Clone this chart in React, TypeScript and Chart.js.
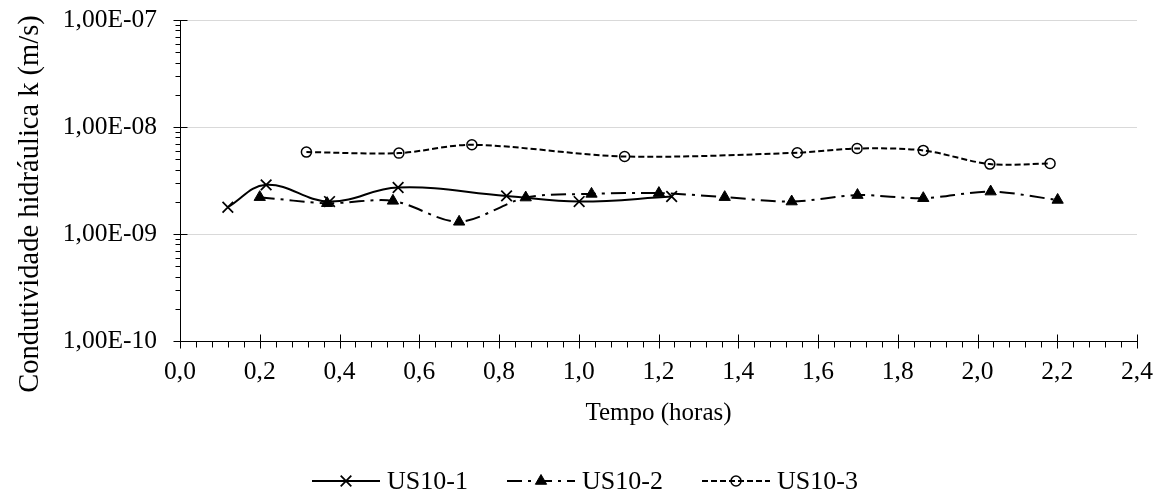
import React, { useEffect, useRef } from 'react';
import { Chart, registerables } from 'chart.js';

Chart.register(...registerables);

const FONT = "'Liberation Serif', 'Times New Roman', serif";

// ---- data ----
const seriesNames = ['US10-1', 'US10-2', 'US10-3'];

const us101Time = [0.12, 0.216, 0.375, 0.547, 0.819, 1.001, 1.233];
const us101K = [1.78e-9, 2.88e-9, 2.01e-9, 2.72e-9, 2.27e-9, 2.01e-9, 2.24e-9];

const us102Time = [0.2, 0.369, 0.534, 0.7, 0.867, 1.032, 1.201, 1.366, 1.534, 1.699, 1.864, 2.033, 2.201];
const us102K = [2.21e-9, 1.94e-9, 2.04e-9, 1.3e-9, 2.19e-9, 2.37e-9, 2.41e-9, 2.21e-9, 2.01e-9, 2.31e-9, 2.16e-9, 2.49e-9, 2.08e-9];

const us103Time = [0.317, 0.549, 0.732, 1.115, 1.548, 1.698, 1.864, 2.031, 2.182];
const us103K = [5.83e-9, 5.7e-9, 6.82e-9, 5.3e-9, 5.74e-9, 6.3e-9, 6.04e-9, 4.5e-9, 4.56e-9];

const xTicks = [0, 0.2, 0.4, 0.6, 0.8, 1.0, 1.2, 1.4, 1.6, 1.8, 2.0, 2.2, 2.4];
const xTickLabels = ['0,0', '0,2', '0,4', '0,6', '0,8', '1,0', '1,2', '1,4', '1,6', '1,8', '2,0', '2,2', '2,4'];
const yTicks = [1e-10, 1e-9, 1e-8, 1e-7];
const yTickLabels = ['1,00E-10', '1,00E-09', '1,00E-08', '1,00E-07'];

const xTitle = 'Tempo (horas)';
const yTitle = 'Condutividade hidráulica k (m/s)';

const pair = (xs: number[], ys: number[]) => xs.map((x, i) => ({ x, y: ys[i] }));

function drawMarker(ctx: CanvasRenderingContext2D, style: string, x: number, y: number, r: number, fill: string, bw: number) {
  ctx.save();
  ctx.setLineDash([]);
  ctx.lineWidth = bw;
  ctx.strokeStyle = '#000';
  ctx.fillStyle = fill;
  ctx.beginPath();
  if (style === 'crossRot') {
    const o = Math.cos(Math.PI / 4) * r;
    ctx.moveTo(x - o, y - o);
    ctx.lineTo(x + o, y + o);
    ctx.moveTo(x + o, y - o);
    ctx.lineTo(x - o, y + o);
    ctx.stroke();
  } else if (style === 'triangle') {
    let rad = 0;
    ctx.moveTo(x + Math.sin(rad) * r, y - Math.cos(rad) * r);
    rad += (2 * Math.PI) / 3;
    ctx.lineTo(x + Math.sin(rad) * r, y - Math.cos(rad) * r);
    rad += (2 * Math.PI) / 3;
    ctx.lineTo(x + Math.sin(rad) * r, y - Math.cos(rad) * r);
    ctx.closePath();
    ctx.fill();
    ctx.stroke();
  } else {
    ctx.arc(x, y, r, 0, Math.PI * 2);
    ctx.fill();
    ctx.stroke();
  }
  ctx.restore();
}

const decorPlugin = {
  id: 'decor',
  afterDraw(chart: any) {
    const { ctx, chartArea, scales } = chart;
    const xs = scales.x;
    const ys = scales.y;
    ctx.save();
    ctx.strokeStyle = '#000';
    ctx.lineWidth = 1;
    ctx.setLineDash([]);
    const ax = Math.round(chartArea.left) + 0.5;
    const ay = Math.round(chartArea.bottom) + 0.5;
    ctx.beginPath();
    // y major ticks (crossing)
    yTicks.forEach((v) => {
      const py = Math.round(ys.getPixelForValue(v)) + 0.5;
      ctx.moveTo(ax - 7, py);
      ctx.lineTo(ax + 7, py);
    });
    // y minor ticks (outside)
    for (let d = 0; d < yTicks.length - 1; d++) {
      for (let m = 2; m <= 9; m++) {
        const py = Math.round(ys.getPixelForValue(yTicks[d] * m)) + 0.5;
        ctx.moveTo(ax - 5, py);
        ctx.lineTo(ax, py);
      }
    }
    // x major ticks (crossing)
    xTicks.forEach((v) => {
      const px = Math.round(xs.getPixelForValue(v)) + 0.5;
      ctx.moveTo(px, ay - 7);
      ctx.lineTo(px, ay + 7);
    });
    // x minor ticks (outside)
    for (let i = 0; i < xTicks.length - 1; i++) {
      const a = xTicks[i];
      const b = xTicks[i + 1];
      for (let k = 1; k < 5; k++) {
        const px = Math.round(xs.getPixelForValue(a + ((b - a) * k) / 5)) + 0.5;
        ctx.moveTo(px, ay);
        ctx.lineTo(px, ay + 6);
      }
    }
    ctx.stroke();

    // axis titles
    ctx.fillStyle = '#000';
    ctx.font = `25px ${FONT}`;
    ctx.textAlign = 'center';
    ctx.textBaseline = 'alphabetic';
    ctx.fillText(xTitle, (chartArea.left + chartArea.right) / 2, 420);

    ctx.save();
    ctx.translate(38, 204);
    ctx.rotate(-Math.PI / 2);
    ctx.font = `28.5px ${FONT}`;
    ctx.fillText(yTitle, 0, 0);
    ctx.restore();

    // legend
    const slot = 195;
    const lineLen = 68;
    const start = 312;
    const ly = 481;
    ctx.font = `26px ${FONT}`;
    ctx.textAlign = 'left';
    chart.data.datasets.forEach((ds: any, i: number) => {
      const sx = start + i * slot;
      ctx.save();
      ctx.strokeStyle = '#000';
      ctx.lineWidth = ds.borderWidth;
      ctx.setLineDash(ds.borderDash || []);
      ctx.beginPath();
      ctx.moveTo(sx, ly);
      ctx.lineTo(sx + lineLen, ly);
      ctx.stroke();
      ctx.restore();
      drawMarker(ctx, ds.pointStyle, sx + lineLen / 2, ly, ds.pointRadius, ds.pointBackgroundColor, ds.pointBorderWidth);
      ctx.fillStyle = '#000';
      ctx.fillText(ds.label, sx + lineLen + 7, 489);
    });
    ctx.restore();
  },
};

export default function App() {
  const canvasRef = useRef<HTMLCanvasElement | null>(null);

  useEffect(() => {
    if (!canvasRef.current) return;
    const chart = new Chart(canvasRef.current, {
      type: 'line',
      data: {
        datasets: [
          {
            label: seriesNames[0],
            data: pair(us101Time, us101K),
            borderColor: '#000',
            borderWidth: 2,
            borderDash: [],
            tension: 0.4,
            pointStyle: 'crossRot',
            pointRadius: 7.5,
            pointBorderWidth: 1.75,
            pointBorderColor: '#000',
            pointBackgroundColor: '#000',
            fill: false,
          },
          {
            label: seriesNames[1],
            data: pair(us102Time, us102K),
            borderColor: '#000',
            borderWidth: 2,
            borderDash: [15, 6, 3, 6],
            tension: 0.3,
            pointStyle: 'triangle',
            pointRadius: 6.5,
            pointBorderWidth: 1,
            pointBorderColor: '#000',
            pointBackgroundColor: '#000',
            fill: false,
          },
          {
            label: seriesNames[2],
            data: pair(us103Time, us103K),
            borderColor: '#000',
            borderWidth: 2,
            borderDash: [6, 3],
            tension: 0.3,
            pointStyle: 'circle',
            pointRadius: 5,
            pointBorderWidth: 1.5,
            pointBorderColor: '#000',
            pointBackgroundColor: 'rgba(0,0,0,0)',
            fill: false,
          },
        ] as any,
      },
      options: {
        animation: false,
        responsive: false,
        devicePixelRatio: 1,
        layout: { padding: { left: 0, top: 20, right: 27, bottom: 0 } },
        plugins: {
          legend: { display: false },
          tooltip: { enabled: false },
        },
        scales: {
          x: {
            type: 'linear',
            min: 0,
            max: 2.4,
            afterFit: (s: any) => {
              s.height = 154;
              s.paddingLeft = 0;
              s.paddingRight = 0;
              s.paddingTop = 0;
              s.paddingBottom = 0;
            },
            afterBuildTicks: (s: any) => {
              s.ticks = xTicks.map((v) => ({ value: v }));
            },
            ticks: {
              color: '#000',
              font: { family: FONT, size: 25.5 },
              padding: 16,
              maxRotation: 0,
              autoSkip: false,
              callback: (v: any) => {
                const i = xTicks.findIndex((t) => Math.abs(t - Number(v)) < 1e-9);
                return i >= 0 ? xTickLabels[i] : '';
              },
            },
            grid: { display: false, drawTicks: false },
            border: { display: true, color: '#000', width: 1 },
          },
          y: {
            type: 'logarithmic',
            min: 1e-10,
            max: 1e-7,
            afterFit: (s: any) => {
              s.width = 180;
              s.paddingLeft = 0;
              s.paddingRight = 0;
              s.paddingTop = 0;
              s.paddingBottom = 0;
            },
            afterBuildTicks: (s: any) => {
              s.ticks = yTicks.map((v) => ({ value: v }));
            },
            ticks: {
              color: '#000',
              font: { family: FONT, size: 25.5 },
              padding: 23,
              autoSkip: false,
              callback: (v: any) => {
                const i = yTicks.findIndex((t) => Math.abs(Math.log10(t) - Math.log10(Number(v))) < 1e-6);
                return i >= 0 ? yTickLabels[i] : '';
              },
            },
            grid: { display: true, drawTicks: false, color: '#d9d9d9', lineWidth: 1 },
            border: { display: true, color: '#000', width: 1 },
          },
        },
      },
      plugins: [decorPlugin],
    });
    return () => chart.destroy();
  }, []);

  return (
    <div style={{ position: 'absolute', left: 0, top: 0, width: 1164, height: 495, background: '#fff' }}>
      <canvas ref={canvasRef} width={1164} height={495} style={{ display: 'block' }} />
    </div>
  );
}
